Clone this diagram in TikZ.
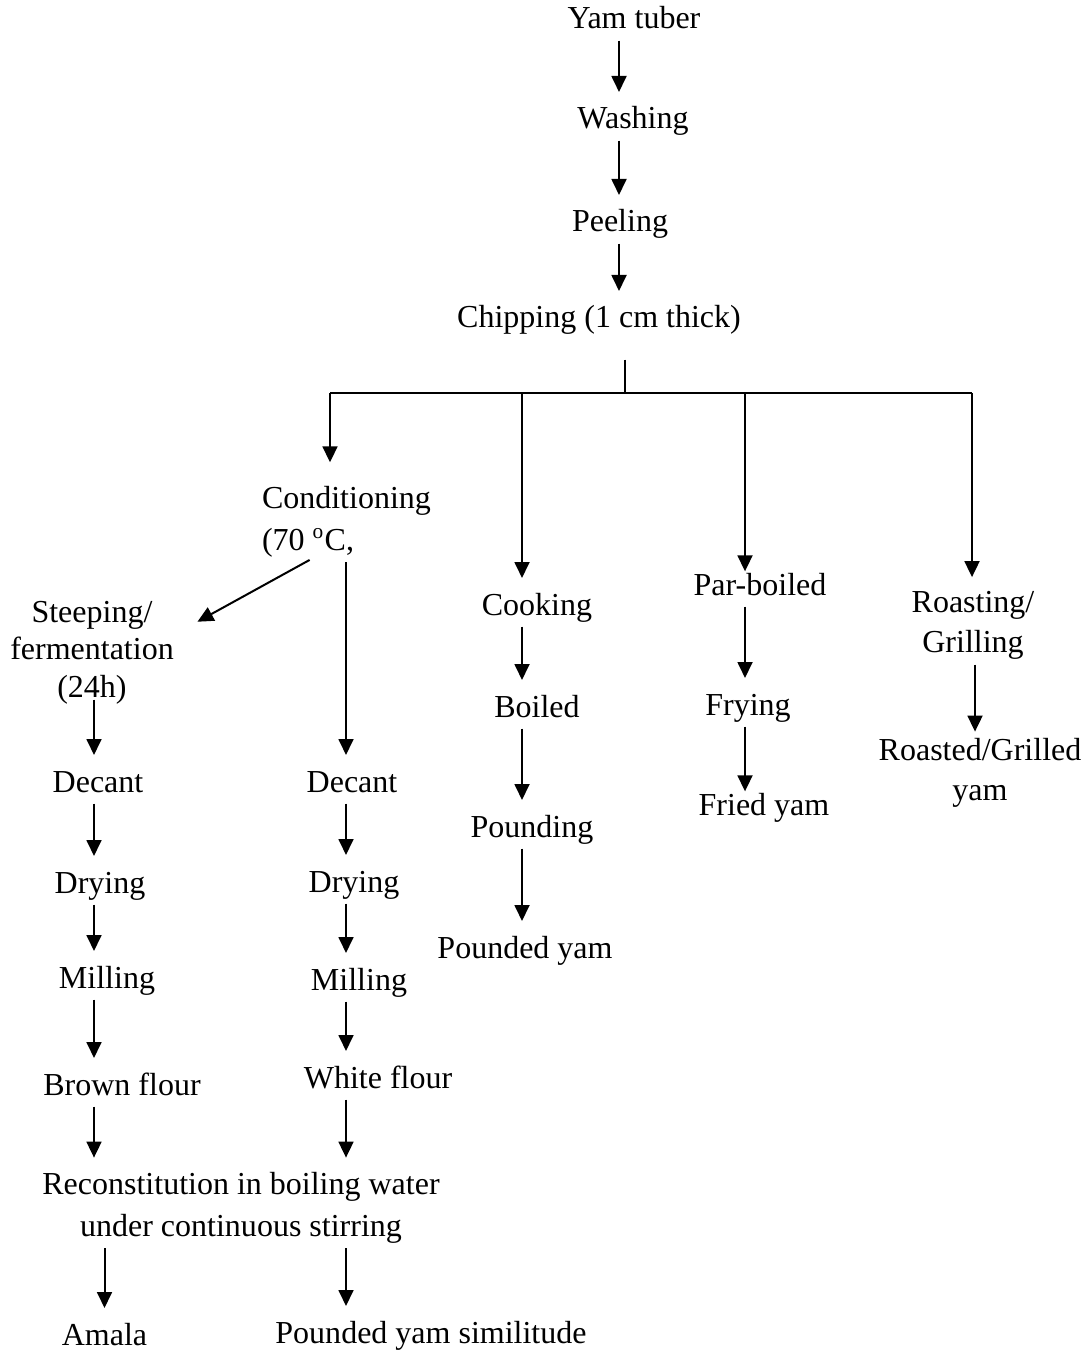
\documentclass[tikz,border=0pt]{standalone}
\usepackage{fontspec}
\setmainfont{Liberation Serif}
\usetikzlibrary{arrows.meta}

\begin{document}
\begin{tikzpicture}[x=0.375pt,y=-0.375pt,
  line width=0.75pt,
  font=\fontsize{12}{15}\selectfont,
  stage/.style={inner sep=0pt,text height=8.5pt,text depth=2.5pt,anchor=base},
  stages/.style={inner sep=0pt,align=center},
  arr/.style={-{Triangle[width=5.6pt,length=6pt]},shorten <=1.5pt,shorten >=5pt}]
\useasboundingbox (0,0) rectangle (1086,1354);

\node[stage] (yam)   at (634,29)  {Yam tuber};
\node[stage] (wash)  at (633,129) {Washing};
\node[stage] (peel)  at (620,232) {Peeling};
\node[stage] (chip)  at (599,328) {Chipping (1 cm thick)};

\node[stages,anchor=west,align=left,font=\fontsize{12}{15.75}\selectfont]
  (cond) at (261,521.5) {Conditioning\\(70 \textsuperscript{o}C,};
\node[stages,font=\fontsize{12}{14}\selectfont]
  (steep) at (92,652.5) {Steeping/\\fermentation\\(24h)};
\node[stage] (decL)  at (98,792)   {Decant};
\node[stage] (decR)  at (352,792)  {Decant};
\node[stage] (dryL)  at (100,893)  {Drying};
\node[stage] (dryR)  at (354,892)  {Drying};
\node[stage] (millL) at (107,988)  {Milling};
\node[stage] (millR) at (359,990)  {Milling};
\node[stage] (brown) at (122,1095) {Brown flour};
\node[stage] (white) at (378,1088) {White flour};
\node[stages,font=\fontsize{12}{15.75}\selectfont]
  (recon) at (241,1207.5) {Reconstitution in boiling water\\under continuous stirring};
\node[stage] (amala) at (104.5,1345) {Amala};
\node[stage] (sim)   at (431,1343)   {Pounded yam similitude};

\node[stage] (cook)  at (537,615) {Cooking};
\node[stage] (boil)  at (537,717) {Boiled};
\node[stage] (pound) at (532,837) {Pounding};
\node[stage] (pyam)  at (525,958) {Pounded yam};

\node[stage] (parb)  at (760,595) {Par-boiled};
\node[stage] (fry)   at (748,715) {Frying};
\node[stage] (fyam)  at (764,815) {Fried yam};

\node[stages] (roast)   at (973,625.5) {Roasting/\\Grilling};
\node[stages] (roasted) at (980,772.5) {Roasted/Grilled\\yam};

\coordinate (hub) at (625,393);
\coordinate (brL) at (330,393);
\coordinate (brR) at (972,393);
\coordinate (cTop)  at (619,0);
\coordinate (cL)    at (94,0);
\coordinate (cR)    at (346,0);
\coordinate (cCook) at (522,0);
\coordinate (cFry)  at (745,0);
\coordinate (cRoast) at (975,0);

\draw[arr] (yam.south -| cTop) -- (wash.north -| cTop);
\draw[arr] (wash.south -| cTop) -- (peel.north -| cTop);
\draw[arr] (peel.south -| cTop) -- (chip.north -| cTop);

\draw[shorten <=9pt] (chip.south -| hub) -- (hub);
\draw (brL) -- (brR);
\draw[arr,shorten <=0pt,shorten >=8.5pt] (brL) -- (cond.north -| brL);
\draw[arr,shorten <=0pt] (brL -| cCook) -- (cook.north -| cCook);
\draw[arr,shorten <=0pt,shorten >=0pt] (brL -| cFry) -- (parb.north -| cFry);
\draw[arr,shorten <=0pt] (brR) -- (roast.north -| brR);

\draw[arr] ([xshift=-12.5pt]cond.south) -- ([shift={(11,28)}]steep.north east);
\draw[arr] (cond.south -| cR) -- (decR.north -| cR);

\draw[arr,shorten <=-2pt] (steep.south -| cL) -- (decL.north -| cL);
\draw[arr] (decL.south -| cL) -- (dryL.north -| cL);
\draw[arr] (dryL.south -| cL) -- (millL.north -| cL);
\draw[arr] (millL.south -| cL) -- (brown.north -| cL);
\draw[arr] (brown.south -| cL) -- (recon.north -| cL);
\draw[arr] (recon.south -| amala) -- (amala.north);

\draw[arr] (decR.south -| cR) -- (dryR.north -| cR);
\draw[arr] (dryR.south -| cR) -- (millR.north -| cR);
\draw[arr] (millR.south -| cR) -- (white.north -| cR);
\draw[arr] (white.south -| cR) -- (recon.north -| cR);
\draw[arr] (recon.south -| cR) -- (sim.north -| cR);

\draw[arr] (cook.south -| cCook) -- (boil.north -| cCook);
\draw[arr] (boil.south -| cCook) -- (pound.north -| cCook);
\draw[arr] (pound.south -| cCook) -- (pyam.north -| cCook);

\draw[arr] (parb.south -| cFry) -- (fry.north -| cFry);
\draw[arr,shorten >=0pt] (fry.south -| cFry) -- (fyam.north -| cFry);

\draw[arr,shorten >=2pt] (roast.south -| cRoast) -- (roasted.north -| cRoast);
\end{tikzpicture}
\end{document}
